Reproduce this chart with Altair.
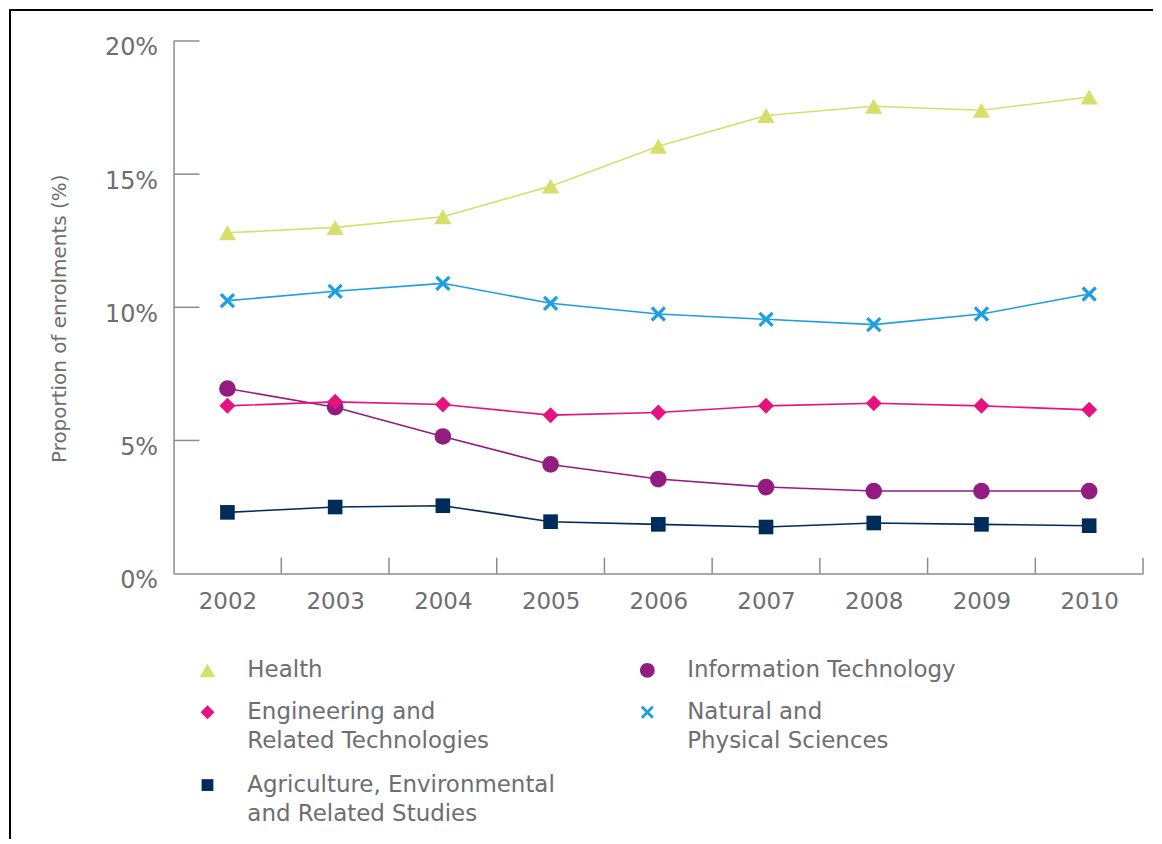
import altair as alt
import pandas as pd

years = [2002, 2003, 2004, 2005, 2006, 2007, 2008, 2009, 2010]
series_names = [
    "Health",
    "Information Technology",
    "Engineering and Related Technologies",
    "Natural and Physical Sciences",
    "Agriculture, Environmental and Related Studies",
]
legend_lines = {
    "Health": ["Health"],
    "Engineering and Related Technologies": ["Engineering and", "Related Technologies"],
    "Agriculture, Environmental and Related Studies": ["Agriculture, Environmental", "and Related Studies"],
    "Information Technology": ["Information Technology"],
    "Natural and Physical Sciences": ["Natural and", "Physical Sciences"],
}
legend_columns = [
    ["Health", "Engineering and Related Technologies", "Agriculture, Environmental and Related Studies"],
    ["Information Technology", "Natural and Physical Sciences"],
]
health = [12.8, 13.0, 13.4, 14.55, 16.05, 17.2, 17.55, 17.4, 17.9]
info_tech = [6.95, 6.25, 5.15, 4.1, 3.55, 3.25, 3.1, 3.1, 3.1]
engineering = [6.3, 6.45, 6.35, 5.95, 6.05, 6.3, 6.4, 6.3, 6.15]
natural = [10.25, 10.6, 10.9, 10.15, 9.75, 9.55, 9.35, 9.75, 10.5]
agriculture = [2.3, 2.5, 2.55, 1.95, 1.85, 1.75, 1.9, 1.85, 1.8]
y_ticks = [0, 5, 10, 15, 20]

colors = ["#d6df6c", "#931c80", "#e6127f", "#1c9fe0", "#002c59"]
x_path = "M0,-0.3L0.7,-1L1,-0.7L0.3,0L1,0.7L0.7,1L0,0.3L-0.7,1L-1,0.7L-0.3,0L-1,-0.7L-0.7,-1Z"
shapes = ["triangle-up", "circle", "diamond", x_path, "square"]
sizes = [300, 215, 225, 310, 210]
legend_sizes = [250, 140, 190, 220, 170]

values = [health, info_tech, engineering, natural, agriculture]
rows = []
for name, vals in zip(series_names, values):
    for yr, v in zip(years, vals):
        rows.append({"year": yr, "value": v, "series": name})
df = pd.DataFrame(rows)

leg_rows = []
for ci, col in enumerate(legend_columns):
    line = 0
    for name in col:
        leg_rows.append({"series": name, "col": ci, "line": line, "label": legend_lines[name]})
        line += len(legend_lines[name])
leg_df = pd.DataFrame(leg_rows)

W, H = 972, 534
FONT = "DejaVu Sans"
GREY = "#6d6e71"
AXIS_GREY = "#8c8c8c"

x_scale = alt.Scale(domain=[years[0] - 0.5, years[-1] + 0.5], nice=False, zero=False)
y_scale = alt.Scale(domain=[0, 20], nice=False)
color_scale = alt.Scale(domain=series_names, range=colors)
shape_scale = alt.Scale(domain=series_names, range=shapes)

x_enc = alt.X(
    "year:Q",
    scale=x_scale,
    axis=alt.Axis(
        title=None,
        values=years,
        format="d",
        grid=False,
        ticks=False,
        tickSize=0,
        labelPadding=17,
        labelFont=FONT,
        labelFontSize=23,
        labelColor=GREY,
        labelBaseline="top",
        labelFlush=False,
        domainColor=AXIS_GREY,
        domainWidth=1.5,
    ),
)
y_enc = alt.Y(
    "value:Q",
    scale=y_scale,
    axis=alt.Axis(
        title="Proportion of enrolments (%)",
        values=y_ticks,
        labelExpr="datum.value + '%'",
        grid=False,
        ticks=False,
        tickSize=0,
        labelPadding=16,
        labelOffset=7,
        labelFont=FONT,
        labelFontSize=24,
        labelColor=GREY,
        labelBaseline="middle",
        labelFlush=False,
        domainColor=AXIS_GREY,
        domainWidth=1.5,
        titleFont=FONT,
        titleFontSize=20,
        titleFontWeight="normal",
        titleColor=GREY,
        titleX=-114,
        titleY=278,
        titleAngle=270,
        titleAlign="center",
        titleBaseline="middle",
    ),
)
color_enc = alt.Color("series:N", scale=color_scale, legend=None)
shape_enc = alt.Shape("series:N", scale=shape_scale, legend=None)

base = alt.Chart(df)
lines = base.mark_line(strokeWidth=1.6).encode(x=x_enc, y=y_enc, color=color_enc, detail="series:N")
points = base.mark_point(filled=True, opacity=1, strokeWidth=0).encode(
    x=x_enc,
    y=y_enc,
    color=color_enc,
    shape=shape_enc,
    size=alt.Size("series:N", scale=alt.Scale(domain=series_names, range=sizes), legend=None),
)

ytick_df = pd.DataFrame({"v": y_ticks[1:]})
yticks = alt.Chart(ytick_df).mark_rule(color=AXIS_GREY, strokeWidth=1.5).encode(
    y=alt.Y("v:Q", scale=y_scale), x=alt.value(0), x2=alt.value(26)
)
xtick_df = pd.DataFrame({"b": [y + 0.5 for y in years]})
xticks = alt.Chart(xtick_df).mark_rule(color=AXIS_GREY, strokeWidth=1.5).encode(
    x=alt.X("b:Q", scale=x_scale), y=alt.value(H), y2=alt.value(H - 16)
)

frame_df = pd.DataFrame({"k": [0]})
frame_left = alt.Chart(frame_df).mark_rule(color="black", strokeWidth=2).encode(
    x=alt.value(-164), y=alt.value(-31), y2=alt.value(H + 266)
)
frame_top = alt.Chart(frame_df).mark_rule(color="black", strokeWidth=2).encode(
    y=alt.value(-31), x=alt.value(-165), x2=alt.value(W + 10)
)

main = alt.layer(frame_left, frame_top, yticks, xticks, lines, points).properties(width=W, height=H)

# legend panel
leg_x = alt.X("col:Q", scale=alt.Scale(domain=[0, 1], range=[34, 475]), axis=None)
leg_y = alt.Y("line:Q", scale=alt.Scale(domain=[0, 1, 3], range=[21, 63, 136]), axis=None)
leg_base = alt.Chart(leg_df)
leg_pts = leg_base.mark_point(filled=True, opacity=1, strokeWidth=0).encode(
    x=leg_x,
    y=leg_y,
    color=color_enc,
    shape=shape_enc,
    size=alt.Size("series:N", scale=alt.Scale(domain=series_names, range=legend_sizes), legend=None),
)
leg_txt = leg_base.mark_text(
    align="left",
    baseline="alphabetic",
    dx=40,
    dy=7,
    font=FONT,
    fontSize=23,
    color=GREY,
    lineHeight=29,
).encode(x=leg_x, y=leg_y, text="label:N")
legend_panel = alt.layer(leg_pts, leg_txt).properties(width=W, height=180)

chart = (
    alt.vconcat(main, legend_panel, spacing=76, bounds="flush")
    .resolve_scale(size="independent")
    .properties(padding=0, background="white")
    .configure_view(stroke="transparent", strokeWidth=0)
)

chart.save("out.html", embed_options={"renderer": "svg", "actions": False})
